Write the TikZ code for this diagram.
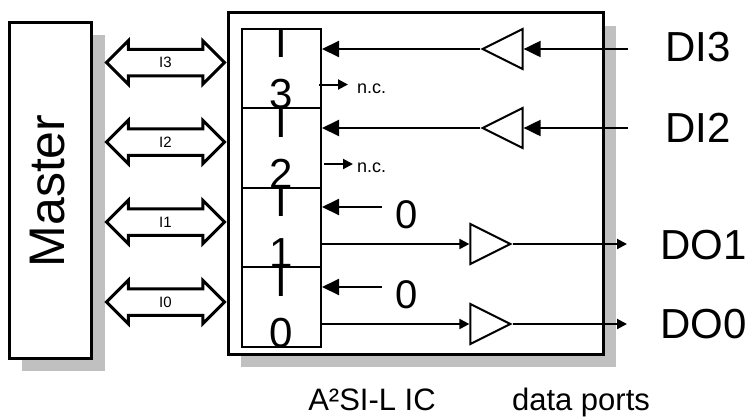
\documentclass[tikz,border=0pt]{standalone}
\usepackage{fontspec}
\setmainfont{Liberation Sans}
\usetikzlibrary{arrows.meta,shapes.arrows,shapes.geometric,shadows}
\definecolor{shadowgray}{RGB}{192,192,192}

\begin{document}
\begin{tikzpicture}[x=1pt,y=-1pt,
  box/.style={draw,line width=3pt,fill=white,inner sep=0pt,drop shadow={shadow xshift=13pt,shadow yshift=-13pt,fill=shadowgray,opacity=1}},
  cell/.style={draw,line width=2pt,minimum width=79pt,minimum height=79.5pt,inner sep=0pt},
  digit/.style={anchor=base,inner sep=0pt,font=\fontsize{42}{42}\selectfont},
  bus/.style={double arrow,draw,line width=3pt,minimum height=118pt,double arrow head extend=8.5pt,double arrow tip angle=90,text height=10.5pt,text depth=0pt,inner ysep=6.5pt,inner xsep=0pt,font=\fontsize{15}{15}\selectfont},
  buf/.style={isosceles triangle,isosceles triangle stretches,draw,line width=2pt,minimum width=40pt,minimum height=40pt,inner sep=0pt},
  sig/.style={line width=2pt},
  bigtip/.style={-{Triangle[length=17pt,width=16pt]}},
  smalltip/.style={-{Triangle[length=10pt,width=10pt]}},
  port/.style={anchor=west,inner sep=0pt,font=\fontsize{42}{42}\selectfont},
  zerotxt/.style={inner sep=0pt,font=\fontsize{40}{40}\selectfont},
  nc/.style={anchor=base west,inner sep=0pt,font=\fontsize{18}{18}\selectfont},
  captext/.style={anchor=base,inner sep=0pt,font=\fontsize{31}{31}\selectfont}]
\useasboundingbox (0,0) rectangle (746,416);
\node[box,minimum width=82.4pt,minimum height=336pt] (master) at (50.5,190) {};
\node[rotate=90,inner sep=0pt,font=\fontsize{50}{50}\selectfont] (mastertxt) at (48,191) {Master};
\node[box,minimum width=375pt,minimum height=341.3pt] (ic) at (415.5,183.4) {};
\node[cell] (c3) at (281.5,68.5) {};
\node[cell] (c2) at (281.5,148) {};
\node[cell] (c1) at (281.5,227.5) {};
\node[cell] (c0) at (281.5,307) {};
\node[digit] (d3a) at (281.5,57) {I};
\node[digit] (d3b) at (281.5,108) {3};
\node[digit] (d2a) at (281.5,137) {I};
\node[digit] (d2b) at (281.5,188) {2};
\node[digit] (d1a) at (281.5,216.5) {I};
\node[digit] (d1b) at (281.5,267.5) {1};
\node[digit] (d0a) at (281.5,296) {I};
\node[digit] (d0b) at (281.5,347) {0};
\node[bus] (i3) at (165.5,62.5) {I3};
\node[bus] (i2) at (165.5,142) {I2};
\node[bus] (i1) at (165.5,222) {I1};
\node[bus] (i0) at (165.5,302) {I0};
\node[buf,shape border rotate=180,anchor=apex] (b3) at (480,49) {};
\node[buf,shape border rotate=180,anchor=apex] (b2) at (480,128) {};
\node[buf,anchor=apex] (b1) at (513,244) {};
\node[buf,anchor=apex] (b0) at (513,324) {};
\node[port] (di3) at (665,47) {DI3};
\node[port] (di2) at (665,128) {DI2};
\node[port] (do1) at (660,245) {DO1};
\node[port] (do0) at (660,324) {DO0};
\coordinate (in3) at (628,49);
\coordinate (in2) at (628,128);
\coordinate (out1) at (627,244);
\coordinate (out0) at (627,324);
\draw[sig,bigtip] (in3) -- (b3.lower side);
\draw[sig,bigtip] (b3.apex) -- (c3.east |- b3.apex);
\draw[sig,bigtip] (in2) -- (b2.lower side);
\draw[sig,bigtip] (b2.apex) -- (c2.east |- b2.apex);
\draw[sig,smalltip] (c1.east |- b1.lower side) -- (b1.lower side);
\draw[sig,smalltip] (b1.apex) -- (out1);
\draw[sig,smalltip] (c0.east |- b0.lower side) -- (b0.lower side);
\draw[sig,smalltip] (b0.apex) -- (out0);
\node[zerotxt] (z1) at (407,214.5) {0};
\node[zerotxt] (z0) at (407,295) {0};
\coordinate (z1a) at (382,207);
\coordinate (z0a) at (382,287);
\draw[sig,bigtip] (z1a) -- (c1.east |- z1a);
\draw[sig,bigtip] (z0a) -- (c0.east |- z0a);
\node[nc] (nc3) at (357,93) {n.c.};
\node[nc] (nc2) at (357,172) {n.c.};
\coordinate (nc3a) at (348,84.5);
\coordinate (nc2a) at (353,164);
\draw[sig,smalltip] ([xshift=-3pt]c3.east |- nc3a) -- (nc3a);
\draw[sig,smalltip] ([xshift=2pt]c2.east |- nc2a) -- (nc2a);
\node[captext] (iclabel) at (372,410) {A²SI-L IC};
\node[captext] (portlabel) at (581,410) {data ports};
\end{tikzpicture}
\end{document}
